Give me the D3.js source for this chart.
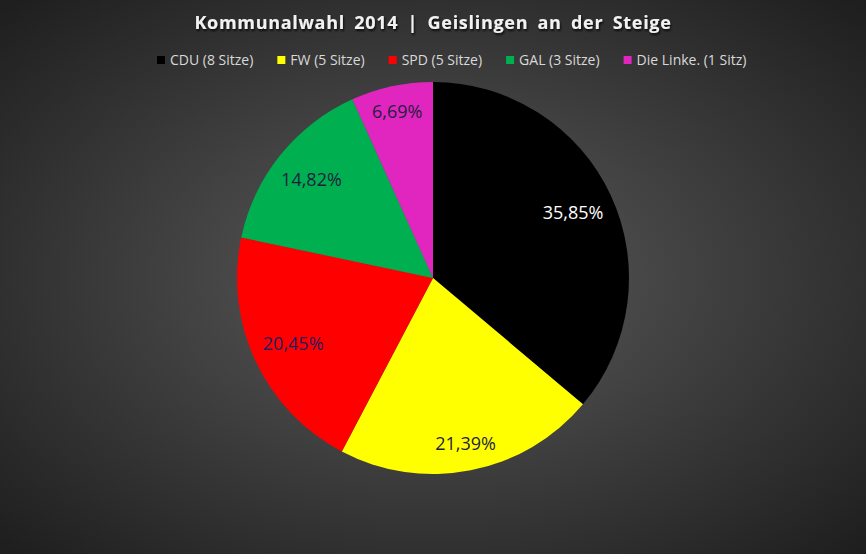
<!DOCTYPE html>
<html>
<head>
<meta charset="utf-8">
<script src="https://cdn.jsdelivr.net/npm/d3@7"></script>
<style>
  body { margin: 0; background: #222; }
  svg { display: block; }
</style>
</head>
<body>
<svg id="chart"></svg>
<script>
var parties = ["CDU (8 Sitze)", "FW (5 Sitze)", "SPD (5 Sitze)", "GAL (3 Sitze)", "Die Linke. (1 Sitz)"]
var shares = [35.85, 21.39, 20.45, 14.82, 6.69]
var colors = ["#000000", "#ffff00", "#ff0000", "#00b050", "#e026be"]
var labelColors = ["#ffffff", "#1f1f3f", "#1f1f5f", "#1f1f3f", "#1f1f3f"]

var dim = { width: 866, height: 554 }
var font = "'Open Sans', 'Liberation Sans', sans-serif"

var svg = d3.select("#chart")
    .attr("width", dim.width)
    .attr("height", dim.height)

// background gradient
var defs = svg.append("defs")
var grad = defs.append("radialGradient")
    .attr("id", "bg")
    .attr("cx", "50%").attr("cy", "50%").attr("r", "70%")
grad.append("stop").attr("offset", "0%").attr("stop-color", "#5c5c5c")
grad.append("stop").attr("offset", "100%").attr("stop-color", "#1e1e1e")

var shadow = defs.append("filter").attr("id", "shadow")
    .attr("x", "-10%").attr("y", "-30%").attr("width", "120%").attr("height", "160%")
shadow.append("feDropShadow")
    .attr("dx", 1).attr("dy", 2).attr("stdDeviation", 1.2)
    .attr("flood-color", "#000").attr("flood-opacity", 0.8)

svg.append("rect")
    .attr("width", dim.width)
    .attr("height", dim.height)
    .attr("fill", "url(#bg)")

// title
svg.append("text")
    .attr("x", dim.width / 2)
    .attr("y", 29)
    .attr("text-anchor", "middle")
    .attr("fill", "#f2f2f2")
    .attr("font-family", font)
    .attr("font-weight", "bold")
    .attr("font-size", 18)
    .attr("letter-spacing", 0.7)
    .attr("word-spacing", 4)
    .attr("filter", "url(#shadow)")
    .text("Kommunalwahl 2014 | Geislingen an der Steige")

// legend
var legend = svg.append("g")
var legendItems = legend.selectAll("g")
    .data(parties).enter()
    .append("g")

legendItems.append("rect")
    .attr("width", 8).attr("height", 8)
    .attr("y", -9)
    .attr("fill", (d, i) => colors[i])

legendItems.append("text")
    .attr("x", 13)
    .attr("fill", "#d9d9d9")
    .attr("font-family", font)
    .attr("font-size", 14)
    .text(d => d)

var xPos = 0
legendItems.each(function() {
    var w = d3.select(this).select("text").node().getComputedTextLength()
    d3.select(this).attr("transform", "translate(" + xPos + ",0)")
    xPos += 13 + w + 24
})
// legend block sits a little right of centre, as in the original
legend.attr("transform", "translate(157,65)")

// pie
var radius = 196
var center = { x: 433, y: 278 }

var pie = d3.pie().sort(null)
var arc = d3.arc().innerRadius(0).outerRadius(radius)

var g = svg.append("g")
    .attr("transform", "translate(" + center.x + "," + center.y + ")")

var slices = g.selectAll("g.slice")
    .data(pie(shares)).enter()
    .append("g").attr("class", "slice")

slices.append("path")
    .attr("d", arc)
    .attr("fill", (d, i) => colors[i])

var fmt = d3.format(".2f")
var labels = slices.append("text")
    .attr("text-anchor", "middle")
    .attr("dy", "0.35em")
    .attr("fill", (d, i) => labelColors[i])
    .attr("font-family", font)
    .attr("font-size", 18)
    .text(d => fmt(d.data).replace(".", ",") + "%")

// place labels "inside end": push outward until the label box nearly touches the rim
labels.each(function(d) {
    var w = this.getComputedTextLength() / 2
    var h = 9
    var a = (d.startAngle + d.endAngle) / 2
    var ux = Math.sin(a), uy = -Math.cos(a)
    var r = 0
    for (var t = 0; t < radius; t += 0.5) {
        var cx = ux * t, cy = uy * t
        var far = d3.max([[-w, -h], [w, -h], [-w, h], [w, h]], c => Math.hypot(cx + c[0], cy + c[1]))
        if (far > radius - 10) break
        r = t
    }
    d3.select(this).attr("transform", "translate(" + ux * r + "," + uy * r + ")")
})
</script>
</body>
</html>
